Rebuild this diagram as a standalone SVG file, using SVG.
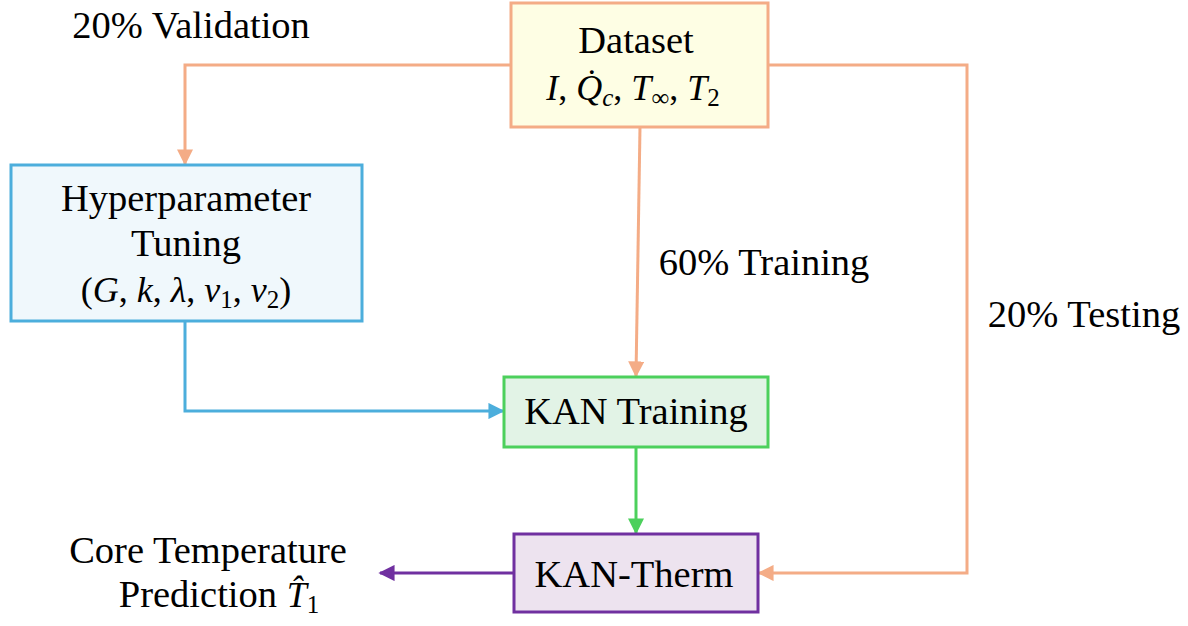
<svg xmlns="http://www.w3.org/2000/svg" width="1188" height="626" viewBox="0 0 1188 626">
  <style>
    .lbl { font-family: "Liberation Serif", "Times New Roman", serif; font-size: 38.5px; fill: #000; }
    .math { font-family: "Liberation Serif", "Times New Roman", serif; font-size: 36px; font-style: italic; fill: #000; }
    .up { font-style: normal; }
    .sub { font-size: 25px; font-style: normal; }
    .subi { font-size: 25px; font-style: italic; }
    .box { stroke-width: 3; }
    .conn { fill: none; stroke-width: 3; }
  </style>
  <defs>
    <marker id="ah-orange" viewBox="0 0 10 10" refX="9" refY="5" markerWidth="5.4" markerHeight="5.4" orient="auto" markerUnits="strokeWidth">
      <path d="M0,0 L10,5 L0,10 z" fill="#f4ac86"/>
    </marker>
    <marker id="ah-blue" viewBox="0 0 10 10" refX="9" refY="5" markerWidth="5.4" markerHeight="5.4" orient="auto" markerUnits="strokeWidth">
      <path d="M0,0 L10,5 L0,10 z" fill="#4caedc"/>
    </marker>
    <marker id="ah-green" viewBox="0 0 10 10" refX="9" refY="5" markerWidth="5.4" markerHeight="5.4" orient="auto" markerUnits="strokeWidth">
      <path d="M0,0 L10,5 L0,10 z" fill="#4cd05c"/>
    </marker>
    <marker id="ah-purple" viewBox="0 0 10 10" refX="9" refY="5" markerWidth="5.4" markerHeight="5.4" orient="auto" markerUnits="strokeWidth">
      <path d="M0,0 L10,5 L0,10 z" fill="#7030a0"/>
    </marker>
  </defs>

  <rect width="1188" height="626" fill="#ffffff"/>

  <!-- connectors -->
  <g id="connectors">
    <path class="conn" stroke="#f4ac86" d="M510,65 H185 V164" marker-end="url(#ah-orange)"/>
    <path class="conn" stroke="#f4ac86" d="M640,127 L636,376" marker-end="url(#ah-orange)"/>
    <path class="conn" stroke="#f4ac86" d="M768,65 H967 V573 H759" marker-end="url(#ah-orange)"/>
    <path class="conn" stroke="#4caedc" d="M185,321 V411 H503" marker-end="url(#ah-blue)"/>
    <path class="conn" stroke="#4cd05c" d="M636,448 V533" marker-end="url(#ah-green)"/>
    <path class="conn" stroke="#7030a0" d="M513,573 H380" marker-end="url(#ah-purple)"/>
  </g>

  <!-- edge labels -->
  <text class="lbl" x="191" y="38" text-anchor="middle">20% Validation</text>
  <text class="lbl" x="764" y="275" text-anchor="middle">60% Training</text>
  <text class="lbl" x="1084" y="327" text-anchor="middle">20% Testing</text>

  <!-- Dataset -->
  <g id="dataset">
    <rect class="box" x="511" y="3" width="257" height="124" fill="#fefee4" stroke="#f4ac86"/>
    <text class="lbl" x="636" y="53" text-anchor="middle">Dataset</text>
    <text class="math" x="633" y="100" text-anchor="middle">I<tspan class="up">, </tspan>Q̇<tspan class="subi" dy="6">c</tspan><tspan class="up" dy="-6">, </tspan>T<tspan class="sub" dy="6">∞</tspan><tspan class="up" dy="-6">, </tspan>T<tspan class="sub" dy="6">2</tspan></text>
  </g>

  <!-- Hyperparameter Tuning -->
  <g id="hyperparameter-tuning">
    <rect class="box" x="11" y="165" width="351" height="156" fill="#f0f8fc" stroke="#4caedc"/>
    <text class="lbl" x="186" y="211" text-anchor="middle">Hyperparameter</text>
    <text class="lbl" x="186" y="256" text-anchor="middle">Tuning</text>
    <text class="math" x="186" y="302" text-anchor="middle" font-size="34"><tspan class="up">(</tspan>G<tspan class="up">, </tspan>k<tspan class="up">, </tspan>λ<tspan class="up">, </tspan>ν<tspan class="sub" dy="6">1</tspan><tspan class="up" dy="-6">, </tspan>ν<tspan class="sub" dy="6">2</tspan><tspan class="up" dy="-6">)</tspan></text>
  </g>

  <!-- KAN Training -->
  <g id="kan-training">
    <rect class="box" x="504" y="377" width="264" height="70" fill="#e2f3e6" stroke="#4cd05c"/>
    <text class="lbl" x="636" y="424" text-anchor="middle">KAN Training</text>
  </g>

  <!-- KAN-Therm -->
  <g id="kan-therm">
    <rect class="box" x="514" y="534" width="244" height="78" fill="#ede3ef" stroke="#7030a0"/>
    <text class="lbl" x="634" y="587" text-anchor="middle">KAN-Therm</text>
  </g>

  <!-- output -->
  <g id="prediction">
    <text class="lbl" x="208" y="563" text-anchor="middle">Core Temperature</text>
    <text class="lbl" x="219" y="607" text-anchor="middle">Prediction <tspan class="math">T̂</tspan><tspan class="sub" dy="6">1</tspan></text>
  </g>
</svg>
